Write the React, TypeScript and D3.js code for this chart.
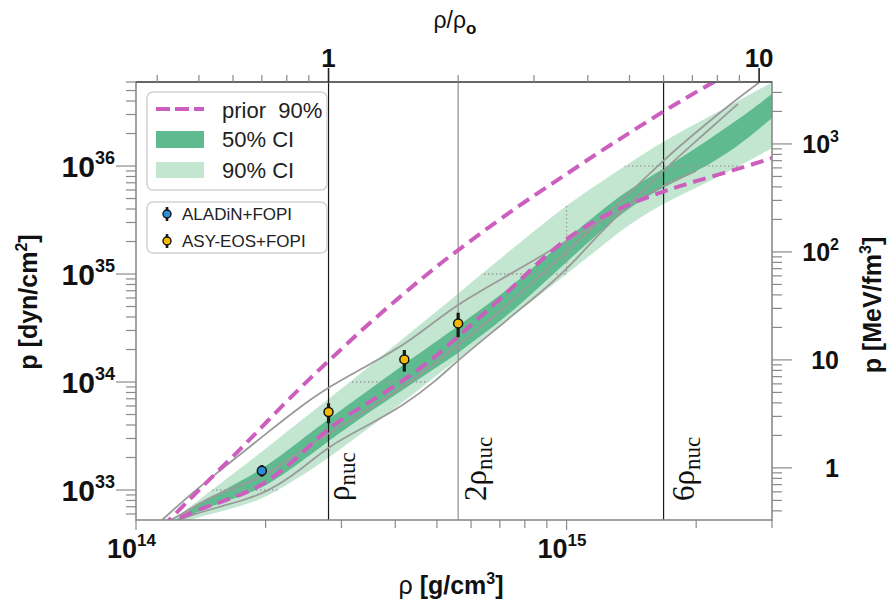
import React from 'react';
import * as d3 from 'd3';

// ---------- data ----------
const RHO_UNIT = 1e14; // g/cm^3
const P_UNIT = 1e33; // dyn/cm^2
const MEV_FM3 = 1.602e33; // dyn/cm^2 per MeV/fm^3
const RHO_NUC = 2.8e14; // g/cm^3

// density grid (1e14 g/cm^3)
const rho = [1.15, 1.3, 1.5, 1.75, 2.0, 2.4, 2.8, 3.4, 4.2, 5.0, 5.6, 7.0, 8.5, 10, 12, 14, 16.8, 20, 25, 30];

// posterior credible bands (1e33 dyn/cm^2)
const ci90Upper = [0.4446, 0.6459, 1.0, 1.599, 2.397, 4.309, 6.96, 12.92, 25.83, 45.45, 65.99, 137.7, 258.3, 435.5, 711.2, 1066, 1704, 2475, 4000, 5932];
const ci90Lower = [0.4264, 0.5164, 0.5995, 0.711, 0.8432, 1.319, 1.978, 3.518, 6.669, 11.61, 16.33, 33.0, 59.95, 100, 177.8, 290.4, 454.5, 625.6, 978.8, 1468];
const ci50Upper = [0.4172, 0.6256, 0.8614, 1.212, 1.633, 2.843, 4.544, 7.91, 14.68, 23.97, 33.0, 62.56, 121.2, 210.9, 383.1, 612.4, 938.0, 1468, 2667, 4642];
const ci50Lower = [0.4, 0.562, 0.711, 0.88, 1.066, 1.778, 2.843, 4.948, 8.614, 13.77, 18.56, 35.94, 71.12, 129.2, 250.1, 417.3, 639.0, 880.0, 1499, 2783];

// prior 90% bounds (1e33 dyn/cm^2)
const priorUpper = [0.454, 0.742, 1.319, 2.397, 4.173, 8.799, 15.65, 32.31, 66.7, 118.6, 166.8, 323.1, 550.5, 843.1, 1377, 2021, 3231, 4845, 8081, 12380];
const priorLower = [0.464, 0.587, 0.726, 0.899, 1.137, 2.064, 3.831, 6.124, 10.43, 17.41, 26.67, 57.44, 123.8, 215.4, 337.2, 444.9, 586.9, 726.4, 938.0, 1186];

// gray reference curves (1e33 dyn/cm^2)
const grayA = [0.5275, 0.825, 1.319, 2.154, 3.3, 5.868, 8.989, 13.77, 22.01, 37.52, 52.75, 87.99, 137.7, 202.1, 309.6, 435.5, 667.0, 898.8, null, null];
const grayB = [0.445, 0.562, 0.667, 0.791, 0.938, 1.499, 2.556, 3.831, 6.124, 10.43, 15.99, 33.0, 62.56, 108.9, 244.8, 444.9, 918.2, 1704, 3751, null];
const grayC = [0.474, 0.626, 0.88, 1.112, 1.348, 2.249, 3.372, 5.275, 9.183, 15.32, 22.01, 44.48, 89.88, 159.8, 316.2, 562.3, 1137, 2064, 4262, 7264];

// heavy-ion constraints
const expNames = ['ALADiN+FOPI', 'ASY-EOS+FOPI'];
const expColors = ['#2b8fd6', '#f5b900'];
const pointRho = [1.96, 2.8, 4.2, 5.6];
const pointP = [1.51, 5.27, 16.2, 34.9];
const pointLo = [1.33, 4.15, 12.5, 26.0];
const pointHi = [1.7, 6.35, 19.8, 43.8];
const pointSet = [0, 1, 1, 1];

// nuclear saturation density markers
const nucMultiples = [1, 2, 6];
const nucPrefix = ['', '2', '6'];

// axis ticks
const leftMajorExp = [33, 34, 35, 36];
const bottomMajorExp = [14, 15];
const rightMajor = [1, 10, 100, 1000];
const rightMajorLabel = [['1', ''], ['10', ''], ['10', '2'], ['10', '3']];
const topMajor = [1, 10];

// ---------- layout ----------
const W = 887;
const H = 610;
const PL = 136;
const PR = 772;
const PT = 82;
const PB = 520;

const SANS = "'Liberation Sans', Arial, Helvetica, sans-serif";
const SERIF = "'Liberation Serif', 'DejaVu Serif', 'Times New Roman', serif";
const LIGHT = '#c3e6d1';
const DARK = '#5fba8f';
const PINK = '#cc5fbd';
const GRAY = '#9a9a9a';
const FRAME = '#8a8a8a';

function logTicks(a: number, b: number) {
  const out: { v: number; major: boolean }[] = [];
  for (let e = Math.floor(Math.log10(a)); e <= Math.ceil(Math.log10(b)); e++) {
    for (let k = 1; k < 10; k++) {
      const v = k * Math.pow(10, e);
      if (v >= a * 0.9999 && v <= b * 1.0001) out.push({ v, major: k === 1 });
    }
  }
  return out;
}

export default function App() {
  const xDom: [number, number] = [1e14, 3e15];
  const yDom: [number, number] = [5.275e32, 6.0e36];
  const x = d3.scaleLog().domain(xDom).range([PL, PR]);
  const y = d3.scaleLog().domain(yDom).range([PB, PT]);
  const yR = d3.scaleLog().domain([yDom[0] / MEV_FM3, yDom[1] / MEV_FM3]).range([PB, PT]);
  const xT = d3.scaleLog().domain([xDom[0] / RHO_NUC, xDom[1] / RHO_NUC]).range([PL, PR]);

  const idx = rho.map((_, i) => i);
  const band = (lo: number[], hi: number[]) =>
    d3
      .area<number>()
      .x((i) => x(rho[i] * RHO_UNIT))
      .y0((i) => y(lo[i] * P_UNIT))
      .y1((i) => y(hi[i] * P_UNIT))
      .curve(d3.curveBasis)(idx) || '';
  const line = (arr: (number | null)[]) =>
    d3
      .line<number>()
      .defined((i) => arr[i] != null)
      .x((i) => x(rho[i] * RHO_UNIT))
      .y((i) => y((arr[i] as number) * P_UNIT))
      .curve(d3.curveBasis)(idx) || '';

  const area90 = band(ci90Lower, ci90Upper);
  const area50 = band(ci50Lower, ci50Upper);

  const xTicks = logTicks(xDom[0], xDom[1]);
  const yTicks = logTicks(yDom[0], yDom[1]);
  const yRTicks = logTicks(yDom[0] / MEV_FM3, yDom[1] / MEV_FM3);
  const xTTicks = logTicks(xDom[0] / RHO_NUC, xDom[1] / RHO_NUC);

  const gridY = leftMajorExp.map((e) => Math.pow(10, e));
  const gridX = [1e15];

  return (
    <svg
      width={W}
      height={H}
      style={{ position: 'absolute', left: 0, top: 0, background: '#fff' }}
      fontFamily={SANS}
    >
      <defs>
        <clipPath id="plotClip">
          <rect x={PL} y={PT} width={PR - PL} height={PB - PT} />
        </clipPath>
        <clipPath id="bandClip">
          <path d={area90} />
        </clipPath>
      </defs>

      <rect x={0} y={0} width={W} height={H} fill="#fff" />

      <g clipPath="url(#plotClip)">
        <path d={area90} fill={LIGHT} />
        <path d={area50} fill={DARK} />
        <g clipPath="url(#bandClip)">
          {gridY.map((v) => (
            <line key={'gy' + v} x1={PL} x2={PR} y1={y(v)} y2={y(v)} stroke="#9c9c9c" strokeWidth={1.3} strokeDasharray="1.5 2.5" />
          ))}
          {gridX.map((v) => (
            <line key={'gx' + v} x1={x(v)} x2={x(v)} y1={PT} y2={PB} stroke="#9c9c9c" strokeWidth={1.3} strokeDasharray="1.5 2.5" />
          ))}
        </g>
        {nucMultiples.map((m) => (
          <line
            key={'nuc' + m}
            x1={x(m * RHO_NUC)}
            x2={x(m * RHO_NUC)}
            y1={PT}
            y2={PB}
            stroke={m === 2 ? '#8e8e8e' : '#1a1a1a'}
            strokeWidth={1.2}
          />
        ))}
        {[grayA, grayB, grayC].map((g, i) => (
          <path key={'g' + i} d={line(g)} fill="none" stroke={GRAY} strokeWidth={1.8} />
        ))}
        {[priorUpper, priorLower].map((g, i) => (
          <path key={'p' + i} d={line(g)} fill="none" stroke={PINK} strokeWidth={4} strokeDasharray="13 7" />
        ))}
        {pointRho.map((r, i) => (
          <g key={'pt' + i}>
            <line
              x1={x(r * RHO_UNIT)}
              x2={x(r * RHO_UNIT)}
              y1={y(pointLo[i] * P_UNIT)}
              y2={y(pointHi[i] * P_UNIT)}
              stroke="#1a1a1a"
              strokeWidth={3.2}
            />
            <circle cx={x(r * RHO_UNIT)} cy={y(pointP[i] * P_UNIT)} r={4.5} fill={expColors[pointSet[i]]} stroke="#111" strokeWidth={1.5} />
          </g>
        ))}
      </g>

      {/* nuclear density labels */}
      {nucMultiples.map((m, i) => {
        const lx = x(m * RHO_NUC) + (m === 1 ? 20 : m === 2 ? 28 : 30);
        return (
          <text key={'nl' + m} transform={`translate(${lx},501) rotate(-90)`} fontFamily={SERIF} fontSize={31} fill="#111">
            {nucPrefix[i]}ρ
            <tspan fontSize={23} dy={6}>
              nuc
            </tspan>
          </text>
        );
      })}

      {/* frame */}
      <rect x={PL} y={PT} width={PR - PL} height={PB - PT} fill="none" stroke={FRAME} strokeWidth={1.6} />
      <line x1={PL} x2={PR} y1={PT} y2={PT} stroke="#555" strokeWidth={1.4} />

      {/* left ticks */}
      {yTicks.map((t) => (
        <line key={'yl' + t.v} x1={PL - (t.major ? 20 : 10)} x2={PL} y1={y(t.v)} y2={y(t.v)} stroke={FRAME} strokeWidth={1.2} />
      ))}
      {leftMajorExp.map((e) => (
        <text key={'ylab' + e} x={115} y={y(Math.pow(10, e)) + 11} textAnchor="end" fontSize={30} fontWeight="bold" fill="#111">
          10
          <tspan dy={-13} fontSize={18}>
            {e}
          </tspan>
        </text>
      ))}

      {/* right ticks */}
      {yRTicks.map((t) => (
        <line key={'yr' + t.v} x1={PR} x2={PR + (t.major ? 20 : 10)} y1={yR(t.v)} y2={yR(t.v)} stroke={FRAME} strokeWidth={1.2} />
      ))}
      {rightMajor.map((v, i) => (
        <text key={'yrl' + v} x={839} y={yR(v) + 9.5} textAnchor="end" fontSize={25} fontWeight="bold" fill="#111">
          {rightMajorLabel[i][0]}
          {rightMajorLabel[i][1] && (
            <tspan dy={-11} fontSize={16}>
              {rightMajorLabel[i][1]}
            </tspan>
          )}
        </text>
      ))}

      {/* bottom ticks */}
      {xTicks.map((t) => (
        <line key={'xb' + t.v} x1={x(t.v)} x2={x(t.v)} y1={PB} y2={PB + (t.major ? 10 : 8)} stroke={FRAME} strokeWidth={1.2} />
      ))}
      {bottomMajorExp.map((e) => (
        <g key={'xbl' + e}>
          <text x={x(Math.pow(10, e)) + 1} y={558} textAnchor="end" fontSize={27} fontWeight="bold" fill="#111">
            10
          </text>
          <text x={x(Math.pow(10, e)) + 1} y={546} textAnchor="start" fontSize={17} fontWeight="bold" fill="#111">
            {e}
          </text>
        </g>
      ))}

      {/* top ticks */}
      {xTTicks.map((t) => (
        <line key={'xt' + t.v} x1={xT(t.v)} x2={xT(t.v)} y1={PT} y2={PT - (t.major ? 14 : 7)} stroke={t.major ? '#222' : FRAME} strokeWidth={t.major ? 1.6 : 1.2} />
      ))}
      {topMajor.map((v) => (
        <text key={'xtl' + v} x={xT(v)} y={67} textAnchor="middle" fontSize={26} fontWeight="bold" fill="#111">
          {v}
        </text>
      ))}

      {/* axis titles */}
      <text x={455} y={28} textAnchor="middle" fontSize={23} fill="#111">
        ρ/ρ
        <tspan dy={6} fontSize={17} fontWeight="bold">
          o
        </tspan>
      </text>
      <text x={451} y={594} textAnchor="middle" fontSize={25} fontWeight="bold" fill="#111">
        <tspan fontWeight="normal">ρ</tspan> [g/cm
        <tspan dy={-10} fontSize={16}>
          3
        </tspan>
        <tspan dy={10}>]</tspan>
      </text>
      <text transform="translate(37,302) rotate(-90)" textAnchor="middle" fontSize={25} fontWeight="bold" fill="#111">
        p [dyn/cm
        <tspan dy={-10} fontSize={16}>
          2
        </tspan>
        <tspan dy={10}>]</tspan>
      </text>
      <text transform="translate(881,305) rotate(-90)" textAnchor="middle" fontSize={25} fontWeight="bold" fill="#111">
        p [MeV/fm
        <tspan dy={-10} fontSize={16}>
          3
        </tspan>
        <tspan dy={10}>]</tspan>
      </text>

      {/* legend 1 */}
      <rect x={147} y={92} width={180} height={98} rx={6} fill="#fff" stroke="#d2d2d2" strokeWidth={1.5} />
      <line x1={156} x2={204} y1={109} y2={109} stroke={PINK} strokeWidth={4} strokeDasharray="14 5" />
      <text x={222} y={118} fontSize={22} fill="#222" style={{ whiteSpace: 'pre' }}>
        {'prior  90%'}
      </text>
      <rect x={156} y={131} width={48} height={17} fill={DARK} />
      <text x={222} y={147} fontSize={22} fill="#222">
        50% CI
      </text>
      <rect x={156} y={162} width={48} height={16} fill={LIGHT} />
      <text x={222} y={178} fontSize={22} fill="#222">
        90% CI
      </text>

      {/* legend 2 */}
      <rect x={147} y={202} width={180} height={51} rx={6} fill="#fff" stroke="#d2d2d2" strokeWidth={1.5} />
      {expNames.map((n, i) => (
        <g key={'lg' + n}>
          <line x1={167} x2={167} y1={207 + i * 27} y2={221 + i * 27} stroke="#1a1a1a" strokeWidth={2.6} />
          <circle cx={167} cy={214 + i * 27} r={4} fill={expColors[i]} stroke="#111" strokeWidth={1.4} />
          <text x={182} y={219.5 + i * 27} fontSize={17} fill="#222">
            {n}
          </text>
        </g>
      ))}
    </svg>
  );
}
